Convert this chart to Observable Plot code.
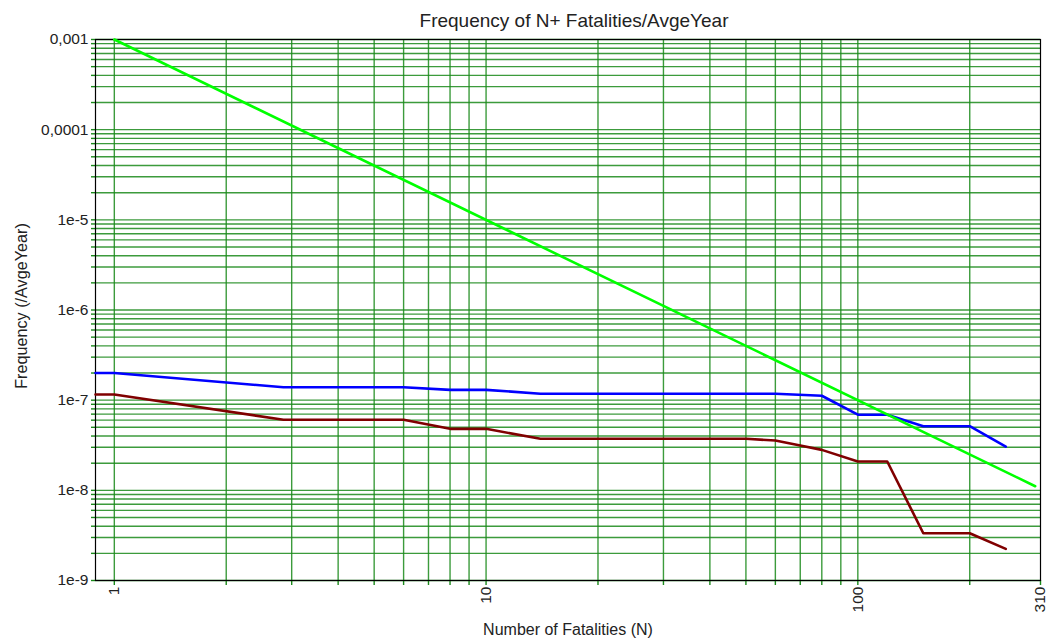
<!DOCTYPE html>
<html>
<head>
<meta charset="utf-8">
<script src="https://cdn.jsdelivr.net/npm/d3@7"></script>
<script src="https://cdn.jsdelivr.net/npm/@observablehq/plot@0.6"></script>
<style>
  html, body { margin: 0; padding: 0; background: #fff; }
  #chart svg { display: block; }
</style>
</head>
<body>
<div id="chart"></div>
<script>
// ---- Texts ----
const title = "Frequency of N+ Fatalities/AvgeYear";
const xLabel = "Number of Fatalities (N)";
const yLabel = "Frequency (/AvgeYear)";

// ---- Tick labels ----
const xTickValues = [1, 10, 100, 310];
const xTickLabels = ["1", "10", "100", "310"];
const yTickValues = [1e-3, 1e-4, 1e-5, 1e-6, 1e-7, 1e-8, 1e-9];
const yTickLabels = ["0,001", "0,0001", "1e-5", "1e-6", "1e-7", "1e-8", "1e-9"];

// ---- Grid positions ----
const xGridValues = [1, 2, 3, 4, 5, 6, 7, 8, 9, 10, 20, 30, 40, 50, 60, 70, 80, 90, 100, 200];
const yMantissas = [1, 2, 3, 4, 5, 6, 7, 8, 9];
const yDecades = [-9, -8, -7, -6, -5, -4];

// ---- Series: criterion line (green) ----
const greenN = [1, 300];
const greenF = [1e-3, 1.11e-8];

// ---- Series: blue curve ----
const blueN = [0.89, 1, 2.85, 6, 8, 10, 14, 60, 80, 100, 120, 150, 200, 250];
const blueF = [2.0e-7, 2.0e-7, 1.39e-7, 1.39e-7, 1.30e-7, 1.30e-7, 1.18e-7, 1.18e-7, 1.12e-7, 6.9e-8, 6.9e-8, 5.14e-8, 5.14e-8, 3.06e-8];

// ---- Series: dark red curve ----
const redN = [0.89, 1, 2.85, 6, 8, 10, 14, 50, 60, 70, 80, 100, 120, 150, 200, 250];
const redF = [1.156e-7, 1.156e-7, 6.06e-8, 6.06e-8, 4.81e-8, 4.81e-8, 3.73e-8, 3.73e-8, 3.57e-8, 3.14e-8, 2.81e-8, 2.09e-8, 2.09e-8, 3.34e-9, 3.34e-9, 2.24e-9];

// ---- Build tables ----
const rows = (ns, fs) => ns.map((n, i) => ({n, f: fs[i]}));
const greenRows = rows(greenN, greenF);
const blueRows = rows(blueN, blueF);
const redRows = rows(redN, redF);
const yGridValues = [];
for (const e of yDecades) for (const m of yMantissas) yGridValues.push(m * Math.pow(10, e));
yGridValues.push(1e-3);

const gridColor = "#1a8a1a";
const textColor = "#222";

const chart = Plot.plot({
  width: 1059,
  height: 639,
  marginLeft: 95,
  marginRight: 19,
  marginTop: 39,
  marginBottom: 59,
  style: {fontFamily: '"Liberation Sans", Arial, sans-serif', background: "#fff", color: textColor},
  x: {type: "log", domain: [0.89, 310]},
  y: {type: "log", domain: [1e-9, 1e-3]},
  marks: [
    Plot.gridX(xGridValues, {stroke: gridColor, strokeOpacity: 0.85, strokeWidth: 1.4}),
    Plot.gridY(yGridValues, {stroke: gridColor, strokeOpacity: 0.85, strokeWidth: 1.4}),
    Plot.axisX(xGridValues.concat([310]), {tickSize: 5, stroke: gridColor, strokeWidth: 1.4, tickFormat: () => "", label: null}),
    Plot.axisX(xTickValues, {tickSize: 0, tickPadding: 6, tickRotate: -90, fontSize: 15.5, fill: textColor,
      tickFormat: d => xTickLabels[xTickValues.indexOf(d)], label: null}),
    Plot.axisY(yGridValues, {tickSize: 4, stroke: gridColor, strokeWidth: 1.4, tickFormat: () => "", label: null}),
    Plot.axisY(yTickValues, {tickSize: 0, tickPadding: 7, fontSize: 15.5, fill: textColor,
      tickFormat: d => yTickLabels[yTickValues.indexOf(d)], label: null}),
    Plot.frame({stroke: "#000", strokeWidth: 1.2}),
    Plot.line(blueRows, {x: "n", y: "f", stroke: "#0000ff", strokeWidth: 2.6}),
    Plot.line(redRows, {x: "n", y: "f", stroke: "#800000", strokeWidth: 2.6}),
    Plot.line(greenRows, {x: "n", y: "f", stroke: "#00ff00", strokeWidth: 2.6}),
    Plot.text([title], {frameAnchor: "top", dx: 6, dy: -19, lineAnchor: "middle", textAnchor: "middle", fontSize: 19, fill: textColor}),
    Plot.text([yLabel], {frameAnchor: "left", dx: -74, dy: -4, rotate: -90, lineAnchor: "middle", textAnchor: "middle", fontSize: 16.2, fill: textColor}),
    Plot.text([xLabel], {frameAnchor: "bottom", dy: 49, lineAnchor: "middle", textAnchor: "middle", fontSize: 16, fill: textColor})
  ]
});
document.getElementById("chart").appendChild(chart);
</script>
</body>
</html>
